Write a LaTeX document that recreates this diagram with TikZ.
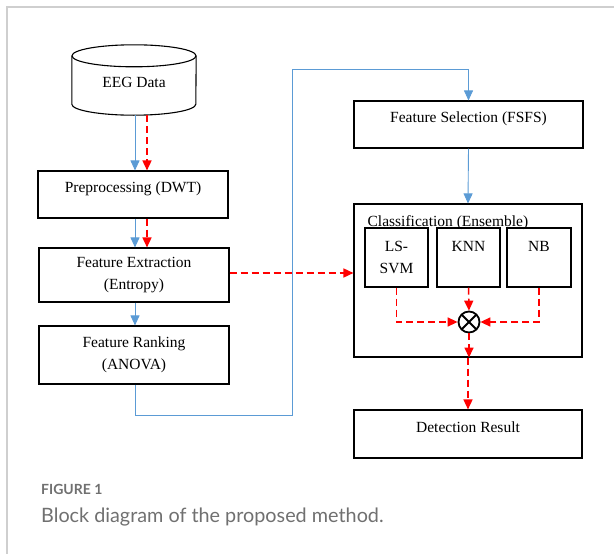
\documentclass[tikz,border=0pt]{standalone}
\usepackage{fontspec}
\setmainfont{Liberation Serif}
\newfontfamily\capfont{Lato}
\usetikzlibrary{arrows.meta}
\definecolor{flowblue}{HTML}{5B9BD5}
\definecolor{framegray}{HTML}{CFCFCF}
\definecolor{capgray}{HTML}{707070}

\begin{document}
\begin{tikzpicture}[x=1pt,y=-1pt,
    every node/.style={font=\fontsize{15.5}{22.5}\selectfont},
    block/.style={draw, line width=1.1pt, rectangle, minimum width=190pt, align=center},
    oneline/.style={text height=10.5pt, text depth=14pt},
    clf/.style={draw, line width=1.1pt, rectangle, minimum width=63pt, minimum height=59pt, align=center},
    blueline/.style={flowblue, line width=0.9pt},
    bluearrow/.style={blueline, -{Triangle[length=10pt,width=9pt]}},
    redarrow/.style={red, line width=1.5pt, dash pattern=on 7pt off 4pt, -{Triangle[length=10pt,width=9pt]}},
    redline/.style={red, line width=1.5pt, dash pattern=on 7pt off 4pt}
]
\useasboundingbox (0,0) rectangle (614,554);
% page frame
\draw[framegray, line width=1.5pt] (614,7) -- (7,7) -- (7,554);

% left column
\node[minimum width=124pt, minimum height=70pt, inner sep=0pt, text height=14pt, text depth=0pt] (eeg) at (134,80) {EEG Data};
\draw[line width=1.1pt] ([yshift=-11pt]eeg.north) ellipse [x radius=62pt, y radius=11pt];
\draw[line width=1.1pt] ([yshift=-11pt]eeg.north west) -- ([yshift=11pt]eeg.south west)
    arc[start angle=180, end angle=360, x radius=62pt, y radius=11pt] -- ([yshift=-11pt]eeg.north east);
\node[block, oneline, minimum height=47pt] (pre) at (133,194.5) {Preprocessing (DWT)};
\node[block, minimum height=54pt] (fe) at (134,275) {Feature Extraction\\(Entropy)};
\node[block, minimum height=58pt] (rank) at (134,355) {Feature Ranking\\(ANOVA)};

% right column
\node[block, oneline, minimum width=229pt, minimum height=47pt] (fsfs) at (468.5,124.5) {Feature Selection (FSFS)};
\node[draw, line width=1.1pt, minimum width=228pt, minimum height=153pt,
      label={[anchor=base west, inner sep=0pt, xshift=14pt, yshift=-23pt]north west:Classification (Ensemble)}]
      (ens) at (468,280.5) {};
\node[clf] (svm) at (396.5,257.5) {LS-\\SVM};
\node[clf] (knn) at (468.5,257.5) {KNN\\\mbox{}};
\node[clf, minimum width=64pt] (nb) at (539,257.5) {NB\\\mbox{}};
\node[circle, draw, line width=1.8pt, minimum size=21pt, inner sep=0pt,
      path picture={\draw[line width=1.8pt]
        (path picture bounding box.center) ++(45:11) -- ++(225:22)
        (path picture bounding box.center) ++(135:11) -- ++(-45:22);}] (vote) at (469,322) {};
\node[block, oneline, minimum width=228pt, minimum height=48pt] (det) at (468,434) {Detection Result};

% blue path
\coordinate (bend) at (292,69);
\draw[bluearrow] ([xshift=1pt]eeg.south) -- ([xshift=2pt]pre.north);
\draw[bluearrow] ([xshift=2pt]pre.south) -- ([xshift=1pt]fe.north);
\draw[bluearrow] ([xshift=1pt]fe.south) -- ([xshift=1pt]rank.north);
\draw[bluearrow] ([xshift=1pt]rank.south) |- (292,415) -- (bend) -| (fsfs.north);
\draw[bluearrow] (fsfs.south) -- (ens.north);

% red path
\draw[redarrow] ([xshift=13pt]eeg.south) -- ([xshift=14pt]pre.north);
\draw[redarrow] ([xshift=14pt]pre.south) -- ([xshift=13pt]fe.north);
\draw[redarrow] ([yshift=2pt]fe.east) -- ([yshift=2pt]fe.east -| ens.west);
\draw[redarrow] (svm.south) |- (vote.west);
\draw[redarrow] (knn.south) -- (vote.north);
\draw[redarrow] (nb.south) |- (vote.east);
\draw[redarrow] (vote.south) -- (vote.south |- ens.south);
\draw[redarrow] (ens.south) -- (det.north);

% caption
\node[anchor=base west, inner sep=0pt, text=capgray, font=\capfont\bfseries\fontsize{14}{16}\selectfont] (figno) at (41,494) {FIGURE 1};
\node[anchor=base west, inner sep=0pt, text=capgray, font=\capfont\fontsize{19.8}{22}\selectfont] (figtext) at (41,522) {Block diagram of the proposed method.};
\end{tikzpicture}
\end{document}
